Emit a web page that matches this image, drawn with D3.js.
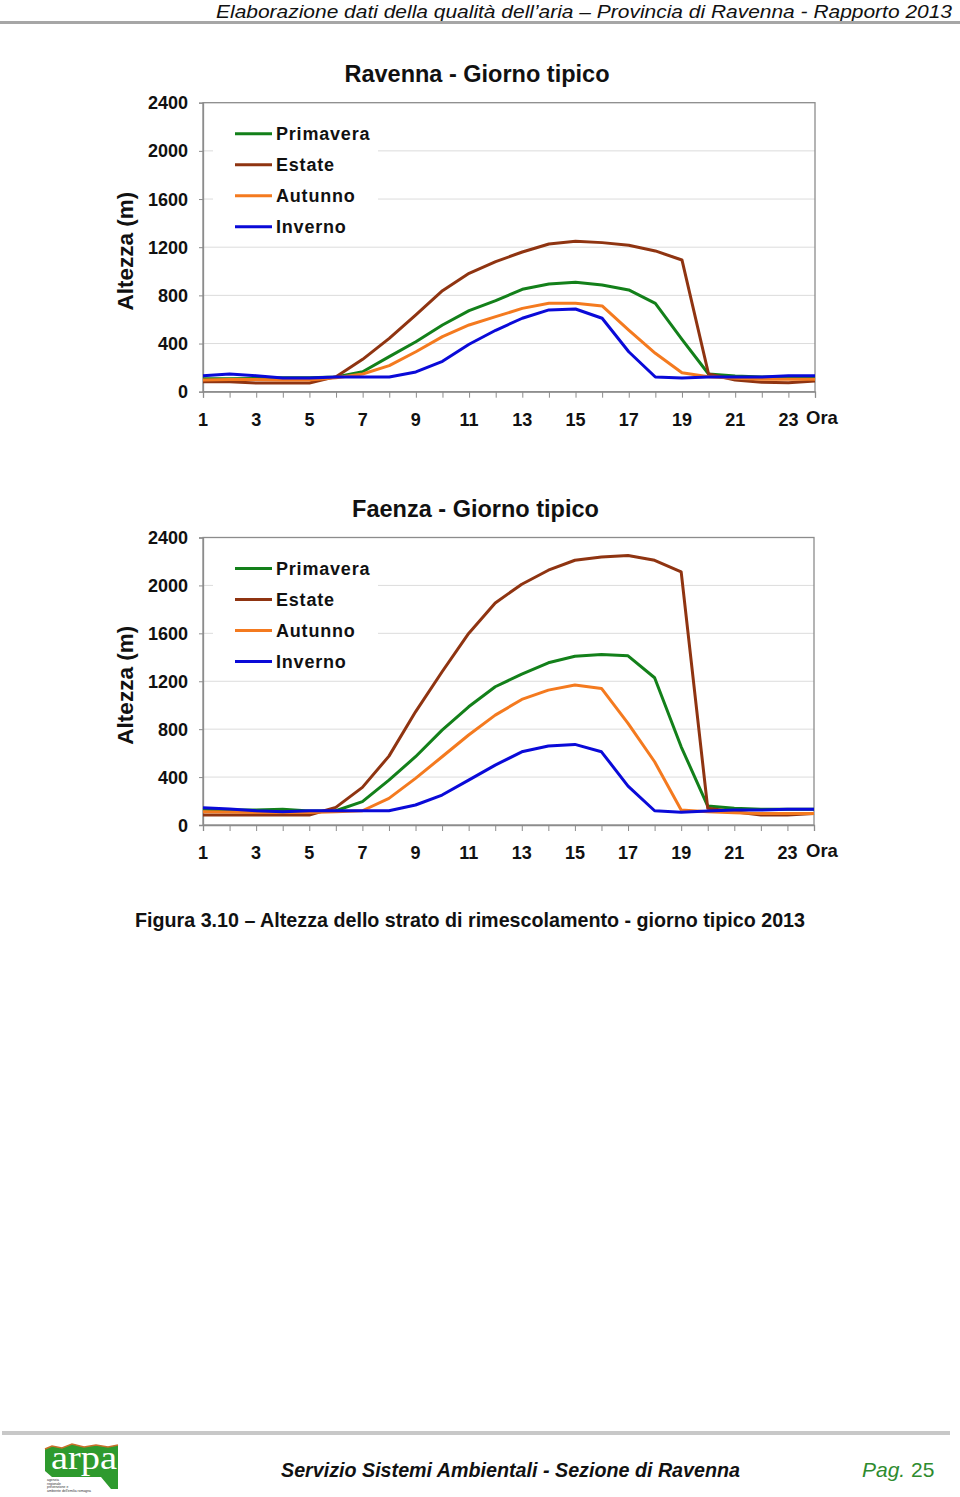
<!DOCTYPE html>
<html><head><meta charset="utf-8">
<script src="https://cdn.jsdelivr.net/npm/d3@7/dist/d3.min.js"></script>
<style>body{margin:0;background:#fff}svg{display:block}</style>
</head><body>
<svg id="page" width="960" height="1497"></svg>
<script>
const hours = d3.range(1, 25);
const hourLabels = [1,3,5,7,9,11,13,15,17,19,21,23];
const yTicks = [0,400,800,1200,1600,2000,2400];
const seriesNames = ["Primavera","Estate","Autunno","Inverno"];
const seriesColors = ["#13801a","#8f3411","#f47a1f","#0a0ad8"];

const ravennaPrimavera = [108,108,110,115,115,122,166,291,415,554,673,756,850,894,908,886,845,734,435,147,130,122,125,125];
const ravennaEstate    = [83,83,72,72,72,125,269,443,637,839,983,1080,1160,1227,1249,1238,1216,1169,1094,147,97,78,75,89];
const ravennaAutunno   = [97,101,101,97,97,116,147,216,332,457,554,623,692,734,734,712,512,319,158,125,111,103,103,103];
const ravennaInverno   = [133,147,133,114,114,122,122,122,164,252,394,510,610,679,687,610,332,122,114,122,122,122,133,133];

const faenzaPrimavera = [131,125,125,131,117,119,195,375,570,792,987,1154,1259,1354,1409,1423,1412,1229,653,158,139,131,131,131];
const faenzaEstate    = [83,83,83,83,83,147,314,575,945,1279,1599,1854,2010,2127,2210,2238,2249,2210,2113,139,111,83,83,97];
const faenzaAutunno   = [110,108,105,105,105,111,119,222,389,570,751,917,1048,1126,1168,1140,848,528,125,111,103,97,97,97];
const faenzaInverno   = [145,133,119,111,119,119,119,119,167,250,375,500,611,659,673,611,325,119,106,117,125,125,131,131];

const svg = d3.select("#page");
const F = "'Liberation Sans', Arial, Helvetica, sans-serif";
const FN = "'Liberation Sans Narrow', 'Liberation Sans', Arial, sans-serif";

// header
svg.append("text").attr("x",952).attr("y",17.5).attr("text-anchor","end")
  .attr("font-family",FN).attr("font-style","italic").attr("font-size",19)
  .attr("textLength",736).attr("lengthAdjust","spacingAndGlyphs")
  .attr("fill","#111").text("Elaborazione dati della qualità dell’aria – Provincia di Ravenna - Rapporto 2013");
svg.append("rect").attr("x",0).attr("y",21).attr("width",960).attr("height",3).attr("fill","#a6a6a6");

function drawChart(cfg){
  const g = svg.append("g");
  const x = d3.scaleLinear().domain([1,24]).range([cfg.left, cfg.right]);
  const y = d3.scaleLinear().domain([0,2400]).range([cfg.bottom, cfg.top]);
  // gridlines
  g.selectAll("line.grid").data(yTicks.filter(d=>d>0 && d<2400)).join("line")
    .attr("x1",cfg.left).attr("x2",cfg.right).attr("y1",d=>y(d)).attr("y2",d=>y(d))
    .attr("stroke","#dcdcdc").attr("stroke-width",1);
  // legend background
  g.append("rect").attr("x",213).attr("y",cfg.top+13).attr("width",165).attr("height",123).attr("fill","#fff");
  // frame
  g.append("rect").attr("x",cfg.left).attr("y",cfg.top).attr("width",cfg.right-cfg.left).attr("height",cfg.bottom-cfg.top)
    .attr("fill","none").attr("stroke","#8c8c8c").attr("stroke-width",1.3);
  // axes
  const xAxis = d3.axisBottom(x).tickValues(hours).tickSize(6).tickFormat("");
  const ax = g.append("g").attr("transform",`translate(0,${cfg.bottom})`).call(xAxis);
  ax.select(".domain").attr("stroke","#8c8c8c").attr("stroke-width",1.3);
  ax.selectAll(".tick line").attr("stroke","#8c8c8c");
  g.selectAll("text.xl").data(hourLabels).join("text")
    .attr("x",d=>x(d)).attr("y",cfg.bottom+34).attr("text-anchor","middle")
    .attr("font-family",F).attr("font-weight","bold").attr("font-size",18).attr("fill","#111").text(d=>d);
  g.append("text").attr("x",806).attr("y",cfg.bottom+32).attr("font-family",F).attr("font-weight","bold")
    .attr("font-size",18.5).attr("fill","#111").text("Ora");
  const yAxis = d3.axisLeft(y).tickValues(yTicks).tickSize(4).tickFormat("");
  const ay = g.append("g").attr("transform",`translate(${cfg.left},0)`).call(yAxis);
  ay.select(".domain").attr("stroke","#8c8c8c").attr("stroke-width",1.3);
  ay.selectAll(".tick line").attr("stroke","#8c8c8c");
  g.selectAll("text.yl").data(yTicks).join("text")
    .attr("x",188).attr("y",d=>y(d)+6.5).attr("text-anchor","end")
    .attr("font-family",F).attr("font-weight","bold").attr("font-size",18).attr("fill","#111").text(d=>d);
  // y label
  const cy = (cfg.top+cfg.bottom)/2 + 4;
  g.append("text").attr("transform",`translate(133,${cy}) rotate(-90)`).attr("text-anchor","middle")
    .attr("font-family",F).attr("font-weight","bold").attr("font-size",22.5).attr("fill","#111").text("Altezza (m)");
  // title
  g.append("text").attr("x",cfg.titleX).attr("y",cfg.top-21).attr("text-anchor","middle")
    .attr("font-family",F).attr("font-weight","bold").attr("font-size",23.5).attr("fill","#111").text(cfg.title);
  // lines
  const line = d3.line().x((d,i)=>x(hours[i])).y(d=>y(d));
  cfg.series.forEach((s,i)=>{
    g.append("path").datum(s).attr("d",line).attr("fill","none")
      .attr("stroke",seriesColors[i]).attr("stroke-width",3).attr("stroke-linejoin","round");
  });
  // legend
  seriesNames.forEach((n,i)=>{
    const ly = cfg.top + 31 + i*31;
    g.append("line").attr("x1",235).attr("x2",272).attr("y1",ly).attr("y2",ly)
      .attr("stroke",seriesColors[i]).attr("stroke-width",3);
    g.append("text").attr("x",276).attr("y",ly+6.5).attr("font-family",F).attr("font-weight","bold")
      .attr("font-size",18).attr("letter-spacing",0.8).attr("fill","#111").text(n);
  });
}

drawChart({left:203,right:815,top:102.7,bottom:391.7,title:"Ravenna - Giorno tipico",titleX:477,
  series:[ravennaPrimavera,ravennaEstate,ravennaAutunno,ravennaInverno]});
drawChart({left:203,right:814,top:537.5,bottom:825,title:"Faenza - Giorno tipico",titleX:475.5,
  series:[faenzaPrimavera,faenzaEstate,faenzaAutunno,faenzaInverno]});

// caption
svg.append("text").attr("x",135).attr("y",927).attr("font-family",FN).attr("font-weight","bold")
  .attr("font-size",21).attr("textLength",670).attr("lengthAdjust","spacingAndGlyphs").attr("fill","#111")
  .text("Figura 3.10 – Altezza dello strato di rimescolamento - giorno tipico 2013");

// footer
svg.append("rect").attr("x",2).attr("y",1431).attr("width",948).attr("height",4).attr("fill","#c8c8c8");
svg.append("text").attr("x",281).attr("y",1477).attr("font-family",FN).attr("font-style","italic").attr("font-weight","bold")
  .attr("font-size",21).attr("textLength",459).attr("lengthAdjust","spacingAndGlyphs").attr("fill","#111")
  .text("Servizio Sistemi Ambientali - Sezione di Ravenna");
svg.append("text").attr("x",862).attr("y",1477).attr("font-family",FN).attr("font-style","italic")
  .attr("font-size",21).attr("fill","#2e8b2e").text("Pag.");
svg.append("text").attr("x",911).attr("y",1477).attr("font-family",FN)
  .attr("font-size",21).attr("fill","#2e8b2e").text("25");

// logo
const lg = svg.append("g");
lg.append("path").attr("d","M45,1449 L52,1446 L62,1448 L72,1444 L84,1447 L96,1445 L108,1447 L118,1445 L118,1489 L111,1489 L101,1477 L52,1477 L45,1471 Z")
  .attr("fill","#2e9a2e");
lg.append("path").attr("d","M45,1449 L52,1446 L62,1448 L72,1444 L84,1447 L96,1445 L108,1447 L118,1445")
  .attr("fill","none").attr("stroke","#c8702a").attr("stroke-width",1.5);
lg.append("text").attr("x",51).attr("y",1469).attr("font-family","'Liberation Serif', serif").attr("font-size",33)
  .attr("textLength",66).attr("lengthAdjust","spacingAndGlyphs").attr("fill","#fff").text("arpa");
["agenzia","regionale","prevenzione  e","ambiente dell'emilia romagna"].forEach((t,i)=>{
  lg.append("text").attr("x",47).attr("y",1481+i*3.6).attr("font-family",F).attr("font-size",3.4)
    .attr("fill","#333").text(t);
});
</script>
</body></html>
